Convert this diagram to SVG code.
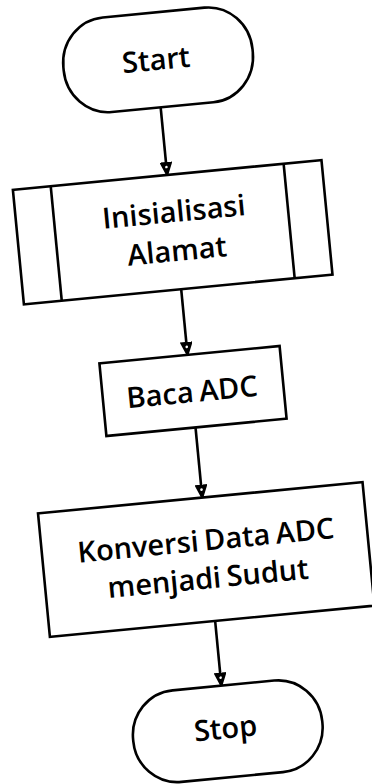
<svg xmlns="http://www.w3.org/2000/svg" width="372" height="784" viewBox="0 0 372 784">
  <defs>
    <style>
      .shape { fill: #ffffff; stroke: #000000; stroke-width: 2.6; }
      .line { fill: none; stroke: #000000; stroke-width: 2.6; }
      .lbl { font-family: "Open Sans", "Noto Sans", "Liberation Sans", sans-serif; font-size: 29px; font-weight: 600; fill: #000000; text-anchor: middle; word-spacing: -2px; }
    </style>
    <marker id="arrow" viewBox="0 0 14 12" refX="13" refY="6" markerWidth="14" markerHeight="12" markerUnits="userSpaceOnUse" orient="auto">
      <path d="M1,1 L13,6 L1,11 Z" fill="#000000" stroke="#000000" stroke-width="2" stroke-linejoin="miter"/>
      <circle cx="5" cy="6" r="1.3" fill="#ffffff"/>
    </marker>
  </defs>
  <rect width="372" height="784" fill="#ffffff"/>
  <g transform="rotate(-5.5 193 391)">
    <g id="connectors">
      <line class="line" x1="188" y1="105.5" x2="188" y2="173.5" marker-end="url(#arrow)"/>
      <line class="line" x1="191" y1="288.5" x2="191" y2="354.5" marker-end="url(#arrow)"/>
      <line class="line" x1="192" y1="427.5" x2="192" y2="498" marker-end="url(#arrow)"/>
      <line class="line" x1="193" y1="622" x2="193" y2="687" marker-end="url(#arrow)"/>
    </g>
    <g id="start">
      <rect class="shape" x="95" y="10.5" width="190" height="95" rx="44" ry="46"/>
      <text class="lbl" x="188" y="68">Start</text>
    </g>
    <g id="init">
      <rect class="shape" x="33" y="173.5" width="310" height="115"/>
      <line class="line" x1="71" y1="173.5" x2="71" y2="288.5"/>
      <line class="line" x1="305" y1="173.5" x2="305" y2="288.5"/>
      <text class="lbl" x="191" y="221">Inisialisasi</text>
      <text class="lbl" x="190.5" y="260">Alamat</text>
    </g>
    <g id="baca">
      <rect class="shape" x="102.5" y="354.5" width="181" height="73"/>
      <text class="lbl" x="192" y="402">Baca ADC</text>
    </g>
    <g id="konversi">
      <rect class="shape" x="27" y="498" width="326" height="124"/>
      <text class="lbl" x="191.5" y="551">Konversi Data ADC</text>
      <text class="lbl" x="190" y="589">menjadi Sudut</text>
    </g>
    <g id="stop">
      <rect class="shape" x="100" y="687" width="190" height="92" rx="44" ry="45"/>
      <text class="lbl" x="193" y="740">Stop</text>
    </g>
  </g>
</svg>
